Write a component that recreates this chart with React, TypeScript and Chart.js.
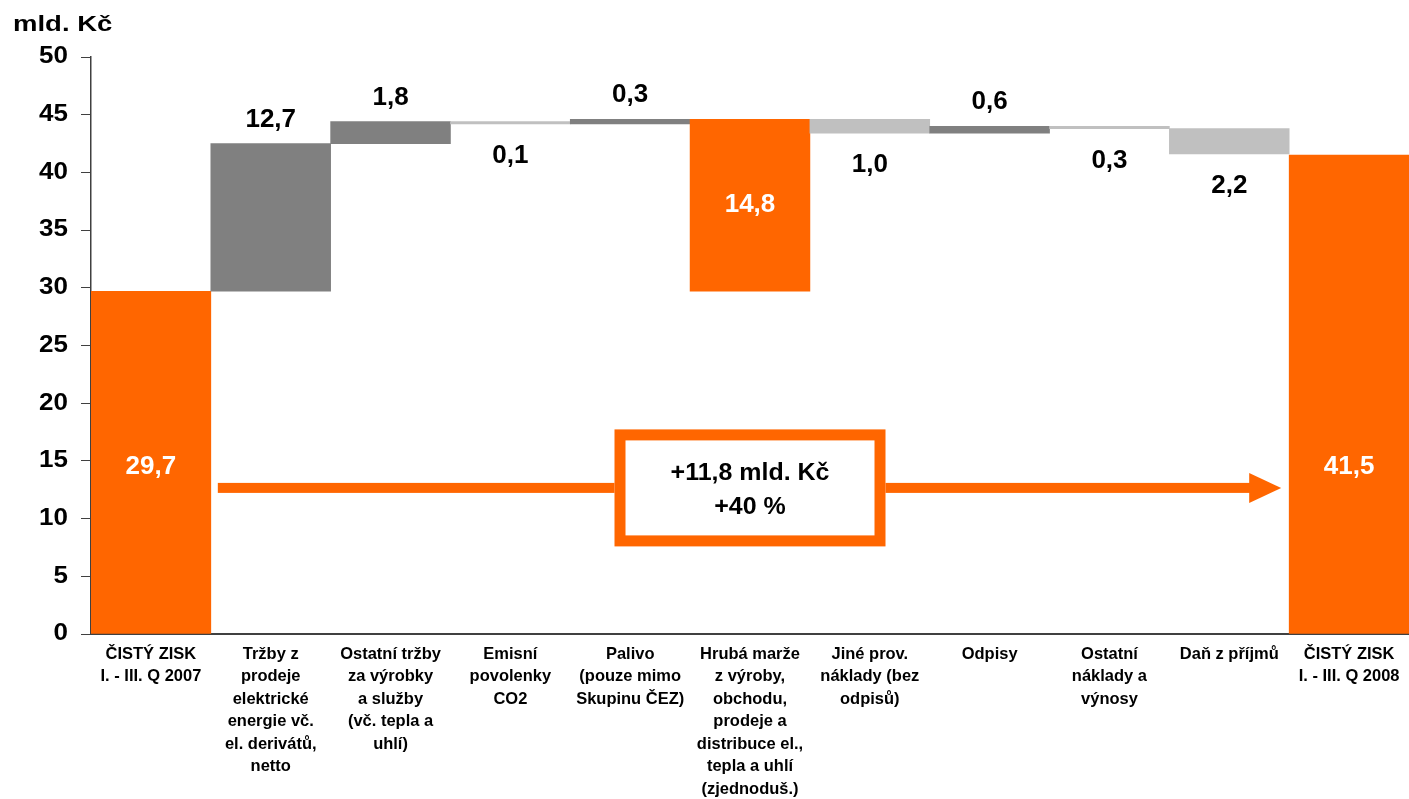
import React, { useEffect, useRef } from 'react';
import { Chart, registerables } from 'chart.js';

Chart.register(...registerables);

// ---- data ----
const categories: string[][] = [
  ['ČISTÝ ZISK', 'I. - III. Q 2007'],
  ['Tržby z', 'prodeje', 'elektrické', 'energie vč.', 'el. derivátů,', 'netto'],
  ['Ostatní tržby', 'za výrobky', 'a služby', '(vč. tepla a', 'uhlí)'],
  ['Emisní', 'povolenky', 'CO2'],
  ['Palivo', '(pouze mimo', 'Skupinu ČEZ)'],
  ['Hrubá marže', 'z výroby,', 'obchodu,', 'prodeje a', 'distribuce el.,', 'tepla a uhlí', '(zjednoduš.)'],
  ['Jiné prov.', 'náklady (bez', 'odpisů)'],
  ['Odpisy'],
  ['Ostatní', 'náklady a', 'výnosy'],
  ['Daň z příjmů'],
  ['ČISTÝ ZISK', 'I. - III. Q 2008'],
];
const barLow = [0, 29.7, 42.5, 44.2, 44.2, 29.7, 43.4, 43.4, 43.8, 41.6, 0];
const barHigh = [29.7, 42.5, 44.4, 44.4, 44.6, 44.6, 44.6, 44.0, 44.0, 43.8, 41.5];
const barKind = ['total', 'up', 'up', 'down', 'up', 'subtotal', 'down', 'up', 'down', 'down', 'total'];
const valueLabels = ['29,7', '12,7', '1,8', '0,1', '0,3', '14,8', '1,0', '0,6', '0,3', '2,2', '41,5'];
const yAxisTitle = 'mld. Kč';
const changeLines = ['+11,8 mld. Kč', '+40 %'];
const arrowLevel = 12.66;

const ORANGE = '#FF6600';
const kindColor: Record<string, string> = {
  total: ORANGE,
  subtotal: ORANGE,
  up: '#808080',
  down: '#C0C0C0',
};
const FONT = '"Liberation Sans", Arial, Helvetica, sans-serif';

function drawText(
  ctx: CanvasRenderingContext2D,
  text: string,
  x: number,
  y: number,
  size: number,
  sx: number,
  align: CanvasTextAlign,
  color: string
) {
  ctx.save();
  ctx.font = `bold ${size}px ${FONT}`;
  ctx.fillStyle = color;
  ctx.textBaseline = 'middle';
  ctx.textAlign = align;
  ctx.translate(x, y);
  ctx.scale(sx, 1);
  ctx.fillText(text, 0, 0);
  ctx.restore();
}

const overlay = {
  id: 'waterfallOverlay',
  afterDatasetsDraw(chart: any) {
    const ctx: CanvasRenderingContext2D = chart.ctx;
    const xs = chart.scales.x;
    const ys = chart.scales.y;
    const step = xs.getPixelForValue(1) - xs.getPixelForValue(0);
    const half = step / 2;
    const arrowY = ys.getPixelForValue(arrowLevel);

    // arrow
    const startX = xs.getPixelForValue(0) + half + 7;
    const tipX = xs.getPixelForValue(categories.length - 1) - half - 8;
    const headLen = 32;
    ctx.save();
    ctx.fillStyle = ORANGE;
    ctx.fillRect(startX, arrowY - 5, tipX - headLen - startX + 1, 10);
    ctx.beginPath();
    ctx.moveTo(tipX - headLen, arrowY - 15);
    ctx.lineTo(tipX, arrowY);
    ctx.lineTo(tipX - headLen, arrowY + 15);
    ctx.closePath();
    ctx.fill();

    // box
    const bx = xs.getPixelForValue(5);
    const bw = 271;
    const bh = 117;
    const lw = 11;
    ctx.fillStyle = '#FFFFFF';
    ctx.fillRect(bx - bw / 2, arrowY - bh / 2, bw, bh);
    ctx.strokeStyle = ORANGE;
    ctx.lineWidth = lw;
    ctx.strokeRect(bx - bw / 2 + lw / 2, arrowY - bh / 2 + lw / 2, bw - lw, bh - lw);
    ctx.restore();
    drawText(ctx, changeLines[0], bx, arrowY - 15, 24, 1.04, 'center', '#000');
    drawText(ctx, changeLines[1], bx, arrowY + 19, 24, 1.04, 'center', '#000');

    // value labels
    valueLabels.forEach((lbl, i) => {
      const x = xs.getPixelForValue(i);
      const top = ys.getPixelForValue(barHigh[i]);
      const bottom = ys.getPixelForValue(barLow[i]);
      const kind = barKind[i];
      if (kind === 'up') {
        drawText(ctx, lbl, x, top - 24, 26, 1.0, 'center', '#000');
      } else if (kind === 'down') {
        drawText(ctx, lbl, x, bottom + 32, 26, 1.0, 'center', '#000');
      } else if (kind === 'subtotal') {
        drawText(ctx, lbl, x, (top + bottom) / 2, 26, 1.0, 'center', '#FFF');
      } else {
        drawText(ctx, lbl, x, arrowY - 21, 26, 1.0, 'center', '#FFF');
      }
    });
  },
  afterDraw(chart: any) {
    const ctx: CanvasRenderingContext2D = chart.ctx;
    const xs = chart.scales.x;
    const ys = chart.scales.y;
    // y tick labels
    ys.ticks.forEach((t: any) => {
      const y = ys.getPixelForValue(t.value);
      drawText(ctx, String(t.value), 68, y, 23, 1.13, 'right', '#000');
    });
    // axis title
    drawText(ctx, yAxisTitle, 13, 25, 22, 1.25, 'left', '#000');
    // category labels
    categories.forEach((lines, i) => {
      const x = xs.getPixelForValue(i);
      lines.forEach((ln, k) => {
        drawText(ctx, ln, x, 654 + k * 22.5, 17, 0.97, 'center', '#000');
      });
    });
  },
};

export default function App() {
  const ref = useRef<HTMLCanvasElement | null>(null);
  useEffect(() => {
    if (!ref.current) return;
    const chart = new Chart(ref.current, {
      type: 'bar',
      data: {
        labels: categories.map((c) => c.join(' ')),
        datasets: [
          {
            data: barLow.map((l, i) => [l, barHigh[i]]) as any,
            backgroundColor: barKind.map((k) => kindColor[k]),
            borderWidth: 0,
            barPercentage: 1,
            categoryPercentage: 1,
          },
        ],
      },
      options: {
        animation: false,
        responsive: false,
        layout: { padding: { top: 57, bottom: 165, left: 0, right: 0 } },
        plugins: {
          legend: { display: false },
          tooltip: { enabled: false },
        },
        scales: {
          x: {
            grid: { display: false, drawTicks: false },
            ticks: { display: false },
            border: { display: true, color: '#404040', width: 2 },
            afterFit: (s: any) => {
              s.height = 0;
            },
          },
          y: {
            min: 0,
            max: 50,
            ticks: { stepSize: 5, display: false },
            grid: { drawOnChartArea: false, drawTicks: true, tickLength: 10, color: '#404040' },
            border: { display: true, color: '#404040', width: 1.5 },
            afterFit: (s: any) => {
              s.width = 91;
            },
          },
        },
      },
      plugins: [overlay],
    });
    return () => chart.destroy();
  }, []);
  return (
    <div style={{ position: 'fixed', left: 0, top: 0, width: 1409, height: 799, background: '#fff' }}>
      <canvas ref={ref} width={1409} height={799} style={{ display: 'block' }} />
    </div>
  );
}
